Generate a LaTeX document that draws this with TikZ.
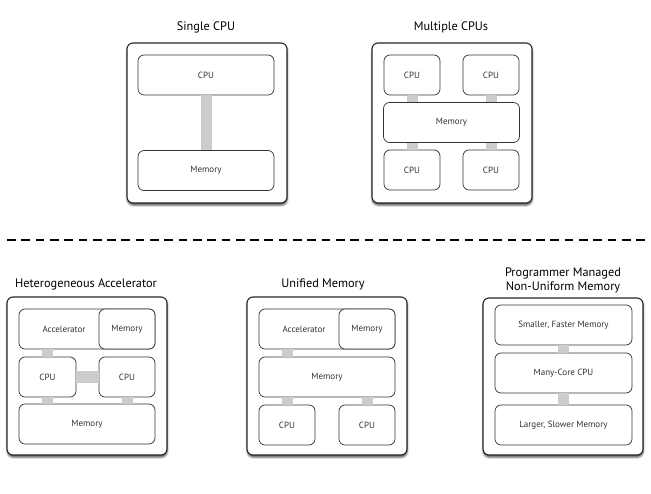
\documentclass[tikz,border=0pt]{standalone}
\usepackage{fontspec}
\setmainfont{PT Sans}
\usetikzlibrary{positioning, calc, shadows, shadows.blur}

\begin{document}
\begin{tikzpicture}[
    x=1pt, y=-1pt,
    % styles
    frame/.style={
        draw=black!85,
        line width=1.1pt,
        rounded corners=6pt,
        fill=white,
        minimum width=160pt,
        minimum height=160pt,
        blur shadow={shadow xshift=0.3pt, shadow yshift=-2.2pt, shadow blur radius=2pt, shadow opacity=70}
    },
    unit/.style={
        draw=black!80,
        line width=0.7pt,
        rounded corners=6pt,
        fill=white,
        minimum width=136pt,
        minimum height=40pt,
        inner sep=0pt,
        text=black!80,
        font=\fontsize{9}{10}\selectfont
    },
    small/.style={unit, minimum width=56pt},
    plain/.style={text=black!80, font=\fontsize{9}{10}\selectfont},
    link/.style={draw=black!20, line width=11pt},
    heading/.style={font=\fontsize{12.3}{14}\selectfont, align=center}
]
    \useasboundingbox (0,0) rectangle (651,494);

    % --- 1. Single CPU (top left) ---
    \node[heading] (t1) at (206,27) {Single CPU};
    \node[frame] (f1) at (207,123) {};
    \node[unit] (s-cpu) at (206,75) {CPU};
    \node[unit] (s-mem) at (206,170.5) {Memory};
    \draw[link] (s-cpu.south) -- (s-mem.north);

    % --- 2. Multiple CPUs (top right) ---
    \node[heading] (t2) at (451,27) {Multiple CPUs};
    \node[frame] (f2) at (452,123) {};
    \node[small] (m-cpu1) at (412,75) {CPU};
    \node[small] (m-cpu2) at (491,75) {CPU};
    \node[unit] (m-mem) at (451.5,122.5) {Memory};
    \node[small] (m-cpu3) at (412,170) {CPU};
    \node[small] (m-cpu4) at (491,170) {CPU};
    \draw[link] (m-cpu1.south) -- (m-cpu1.south |- m-mem.north);
    \draw[link] (m-cpu2.south) -- (m-cpu2.south |- m-mem.north);
    \draw[link] (m-cpu3.north) -- (m-cpu3.north |- m-mem.south);
    \draw[link] (m-cpu4.north) -- (m-cpu4.north |- m-mem.south);

    % --- 3. Dashed separator ---
    \coordinate (sep-l) at (7,240);
    \coordinate (sep-r) at (646,240);
    \draw[line width=1.6pt, dash pattern=on 8.7pt off 5.6pt] (sep-l) -- (sep-r);

    % --- 4. Heterogeneous Accelerator (bottom left) ---
    \node[heading] (t3) at (86,284) {Heterogeneous Accelerator};
    \node[frame, minimum height=158pt] (f3) at (87,376) {};
    \node[unit] (h-acc) at (87,329) {};
    \node[plain] (h-acc-text) at (64,329) {Accelerator};
    \node[small] (h-accmem) at (127,329) {Memory};
    \node[small, minimum width=57pt] (h-cpu1) at (47.5,377) {CPU};
    \node[small] (h-cpu2) at (127,377) {CPU};
    \node[unit] (h-mem) at (87,424) {Memory};
    \draw[link] (h-cpu1.north) -- (h-cpu1.north |- h-acc.south);
    \draw[link, line width=12pt] (h-cpu1.east) -- (h-cpu2.west);
    \draw[link] (h-cpu1.south) -- (h-cpu1.south |- h-mem.north);
    \draw[link] (h-cpu2.south) -- (h-cpu2.south |- h-mem.north);

    % --- 5. Unified Memory (bottom centre) ---
    \node[heading] (t4) at (323,284) {Unified Memory};
    \node[frame, minimum height=158pt] (f4) at (327,376) {};
    \node[unit] (u-acc) at (327,329) {};
    \node[plain] (u-acc-text) at (304,329) {Accelerator};
    \node[small] (u-accmem) at (367,329) {Memory};
    \node[unit] (u-mem) at (327,377) {Memory};
    \node[small] (u-cpu1) at (287,425) {CPU};
    \node[small] (u-cpu2) at (367,425) {CPU};
    \draw[link] (u-mem.north -| u-cpu1) -- (u-acc.south -| u-cpu1);
    \draw[link] (u-cpu1.north) -- (u-cpu1.north |- u-mem.south);
    \draw[link] (u-cpu2.north) -- (u-cpu2.north |- u-mem.south);

    % --- 6. Programmer Managed Non-Uniform Memory (bottom right) ---
    \node[heading] (t5) at (563,280) {Programmer Managed\\Non-Uniform Memory};
    \node[frame, minimum height=157pt] (f5) at (563,376.5) {};
    \node[unit, minimum width=137pt] (p-fast) at (563.5,325) {Smaller, Faster Memory};
    \node[unit, minimum width=137pt] (p-core) at (563.5,373) {Many-Core CPU};
    \node[unit, minimum width=137pt] (p-slow) at (563.5,425) {Larger, Slower Memory};
    \draw[link] (p-fast.south) -- (p-core.north);
    \draw[link] (p-core.south) -- (p-slow.north);

\end{tikzpicture}
\end{document}
